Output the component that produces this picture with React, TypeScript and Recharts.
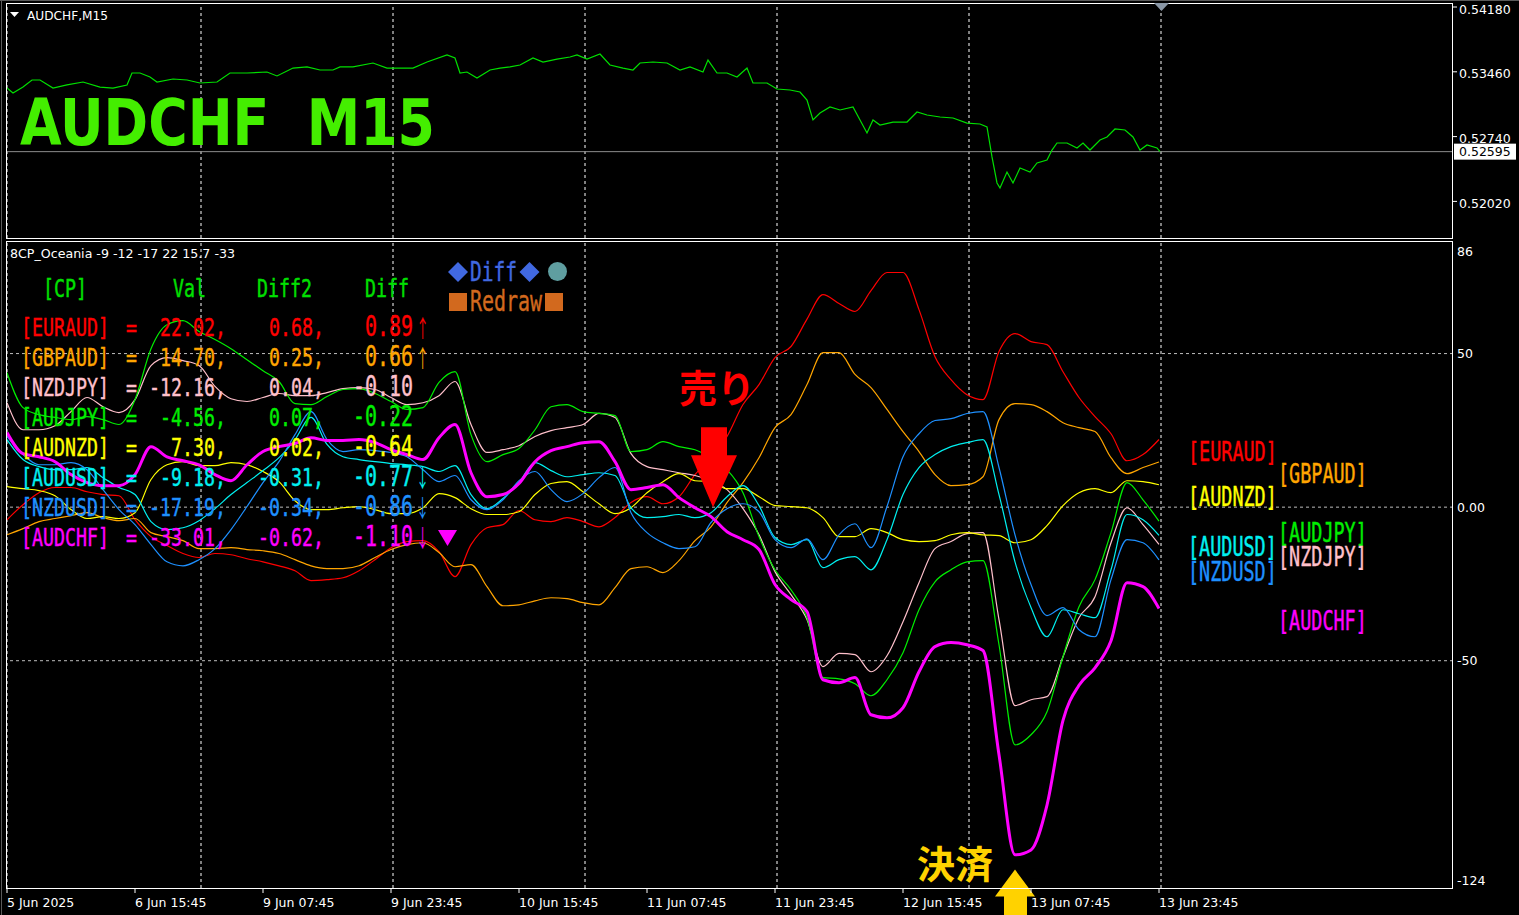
import React from 'react';
import { LineChart, Line, XAxis, YAxis, ReferenceLine, ReferenceDot } from 'recharts';

const W = 1519;
const H = 915;

// one indicator sample every 8 M15 bars, bar 0 = 5 Jun 2025
const sampleStep = 8;
const lastBarSlot = 723;

const timeTickBars = [0, 64, 128, 192, 256, 320, 384, 448, 512, 576];
const timeTickLabels = [
  '5 Jun 2025', '6 Jun 15:45', '9 Jun 07:45', '9 Jun 23:45', '10 Jun 15:45',
  '11 Jun 07:45', '11 Jun 23:45', '12 Jun 15:45', '13 Jun 07:45', '13 Jun 23:45',
];
const gridBars = [0, 97, 193, 289, 385, 481, 577];

const priceTicks = [0.5418, 0.5346, 0.5274, 0.5202];
const priceDomain = [0.516356, 0.542467];
const lastPrice = 0.52595;

const indTicks = [86, 50, 0, -50, -124];
const indDomain = [-124, 86];
const indGridLevels = [50, 0, -50];

// AUDCHF close, read at irregular bars
const priceBars = [
  0, 3, 8, 12.5, 16.5, 23, 30, 38, 46.5, 53,
  60, 62.5, 66.5, 71.5, 75, 83, 90, 96.5, 105, 111.5,
  120, 130, 135, 143, 150, 156.5, 163, 166.5, 173, 183,
  190, 196.5, 203, 210, 220, 224, 226.5, 230, 235, 241.5,
  246.5, 251.5, 256.5, 263, 268, 275, 281.5, 285, 290, 296.5,
  301.5, 308, 313, 316.5, 323, 330, 336.5, 341.5, 348, 350.5,
  355, 360, 365, 370, 373, 380, 385, 391.5, 396.5, 400,
  403, 406.5, 411.5, 416.5, 423, 426.5, 430, 433, 436.5, 443,
  450, 455, 460, 466.5, 473, 480, 486.5, 490, 492.5, 495,
  496.5, 500, 503, 506.5, 511.5, 515, 520, 522.5, 525, 530,
  535, 538, 541.5, 546.5, 550, 554, 559, 563, 566.5, 570,
  575, 576.5,
];
const priceClose = [
  0.53302, 0.53247, 0.53313, 0.53391, 0.53391, 0.53302, 0.53336, 0.53369, 0.53313, 0.53302,
  0.53336, 0.53469, 0.53469, 0.53424, 0.53369, 0.53402, 0.53391, 0.53358, 0.53369, 0.53469,
  0.53469, 0.5348, 0.53436, 0.53524, 0.53536, 0.53502, 0.53502, 0.53536, 0.53536, 0.5358,
  0.53524, 0.53524, 0.53524, 0.53591, 0.53669, 0.53636, 0.53469, 0.5348, 0.53413, 0.53502,
  0.53524, 0.53536, 0.53558, 0.53636, 0.53591, 0.53624, 0.53647, 0.53669, 0.53624, 0.5368,
  0.53558, 0.53524, 0.53502, 0.5358, 0.53591, 0.5358, 0.53502, 0.53536, 0.5348, 0.53613,
  0.53469, 0.53469, 0.53424, 0.53524, 0.53358, 0.53358, 0.53291, 0.5328, 0.53258, 0.53169,
  0.52947, 0.53024, 0.53091, 0.53058, 0.53091, 0.52947, 0.52802, 0.52947, 0.52891, 0.52924,
  0.52924, 0.53036, 0.53002, 0.5298, 0.52969, 0.52913, 0.52902, 0.52869, 0.52536, 0.52247,
  0.52191, 0.52369, 0.52247, 0.52413, 0.52369, 0.52469, 0.52502, 0.52613, 0.52691, 0.52691,
  0.52636, 0.52691, 0.52613, 0.52724, 0.52758, 0.52847, 0.52836, 0.52758, 0.52613, 0.52669,
  0.52636, 0.52595,
];

const euraud = [
  -4.1, 0.8, 4.7, 6.4, 6.4, 5.0, 4.1, 3.7, -4.1, -9.6,
  -12.5, -15.1, -16.4, -15.1, -15.5, -16.8, -17.8, -19.1, -20.7, -23.9,
  -23.6, -23.0, -20.7, -17.1, -13.2, -11.2, -10.9, -14.5, -22.6, -12.2,
  -6.7, -5.7, -1.1, -4.1, -4.7, -3.4, -4.7, -6.4, -3.4, 1.5,
  3.4, 1.1, 3.4, 10.6, 16.1, 23.0, 33.4, 39.9, 48.7, 52.3,
  61.2, 69.2, 66.3, 63.7, 70.5, 76.4, 76.4, 64.3, 49.0, 41.5,
  36.6, 35.0, 50.7, 56.5, 53.9, 52.9, 44.1, 35.7, 29.5, 23.9,
  15.1, 17.1, 22.02,
];
const gbpaud = [
  -9.0, -7.0, -4.7, -3.7, -2.8, -1.8, -3.4, -4.4, -3.7, -8.3,
  -9.6, -10.9, -13.5, -13.5, -13.2, -13.8, -14.2, -15.1, -17.1, -19.1,
  -20.0, -20.0, -19.1, -16.4, -13.8, -12.2, -11.6, -14.8, -19.4, -18.7,
  -25.9, -32.1, -31.8, -30.5, -29.5, -29.8, -31.1, -31.8, -26.2, -20.0,
  -19.4, -21.3, -17.4, -10.9, -6.4, 1.5, 8.0, 16.1, 25.9, 30.1,
  39.9, 50.3, 50.3, 43.2, 38.9, 31.8, 24.6, 18.1, 10.6, 7.0,
  7.3, 9.9, 28.5, 33.7, 33.4, 31.1, 27.5, 25.9, 24.6, 16.1,
  10.9, 12.9, 14.7,
];
const nzdjpy = [
  34.0, 25.2, 25.2, 26.5, 31.1, 35.7, 32.7, 30.8, 35.0, 46.1,
  48.7, 47.7, 46.1, 39.3, 35.3, 34.4, 35.7, 37.0, 36.3, 36.3,
  37.3, 38.6, 38.9, 38.3, 35.7, 33.4, 34.0, 36.3, 40.9, 26.9,
  17.8, 18.7, 20.0, 23.0, 24.9, 25.9, 26.9, 30.5, 29.2, 17.4,
  13.2, 12.2, 11.2, 10.3, 8.6, 5.7, -0.5, -9.0, -21.0, -28.5,
  -36.6, -51.9, -47.6, -48.0, -53.6, -48.4, -37.3, -24.6, -13.5, -11.2,
  -8.6, -8.3, -36.6, -64.6, -62.7, -61.7, -48.7, -36.0, -29.2, -11.6,
  -0.2, -5.7, -12.16,
];
const audjpy = [
  43.8, 32.4, 30.1, 29.2, 28.5, 29.5, 28.5, 26.9, 35.0, 51.6,
  59.4, 60.7, 57.2, 54.6, 51.6, 48.0, 44.4, 40.9, 33.7, 33.4,
  36.0, 38.3, 38.6, 37.0, 34.4, 31.8, 32.4, 40.6, 44.1, 23.6,
  14.8, 17.1, 19.1, 25.2, 32.7, 33.4, 31.1, 30.5, 29.8, 18.1,
  18.7, 21.3, 19.7, 18.7, 16.1, 12.2, 4.7, -9.6, -20.4, -26.9,
  -36.0, -55.5, -55.9, -57.5, -61.4, -56.2, -47.4, -33.4, -24.3, -20.4,
  -17.8, -17.4, -44.8, -77.4, -74.1, -66.6, -48.7, -32.4, -23.6, -8.3,
  8.0, 2.4, -4.56,
];
const audnzd = [
  6.7, 6.0, 5.4, 3.7, -0.8, -3.7, -3.1, -3.7, -1.8, 9.0,
  13.8, 14.8, 13.5, 13.5, 14.5, 13.8, 11.6, 8.3, 2.1, -0.8,
  -0.8, -0.2, 0.2, -0.8, -2.1, -2.1, -0.2, 4.4, 3.1, -0.5,
  -2.4, -2.4, -1.5, 4.1, 7.7, 8.3, 5.0, 1.1, -2.1, -0.2,
  4.7, 8.3, 10.9, 8.6, 8.3, 6.0, 6.0, 3.4, 0.5, 0.2,
  -0.2, -3.4, -9.6, -9.6, -7.0, -8.3, -10.6, -11.2, -10.9, -9.0,
  -8.3, -9.0, -9.3, -11.6, -10.6, -6.0, 0.5, 4.7, 6.0, 4.7,
  8.6, 8.3, 7.3,
];
const audusd = [
  22.0, 15.5, 13.2, 12.2, 12.2, 12.9, 9.6, 6.4, 4.1, -4.7,
  -7.3, -6.7, -4.4, -0.5, 4.1, 8.0, 11.9, 16.1, 22.0, 29.2,
  20.4, 16.4, 15.5, 14.8, 14.2, 13.8, 13.2, 11.6, 13.5, 4.1,
  -0.5, 2.8, 8.0, 14.5, 11.9, 9.9, 10.6, 11.2, 10.3, -0.2,
  -3.4, -3.1, -2.4, -3.4, -1.8, 3.4, 7.0, 0.5, -9.9, -12.2,
  -10.6, -19.7, -17.1, -16.1, -20.4, -10.6, 4.1, 12.9, 17.1, 19.7,
  21.0, 22.0, 4.1, -17.8, -32.7, -42.2, -33.4, -34.7, -36.0, -20.4,
  -2.4, -4.1, -9.18,
];
const nzdusd = [
  23.0, 17.1, 13.8, 13.8, 14.5, 12.2, 5.7, -0.8, -5.7, -12.2,
  -17.8, -19.1, -17.1, -13.5, -7.3, 0.2, 8.0, 14.8, 23.6, 31.1,
  22.0, 18.1, 18.7, 18.4, 17.8, 16.4, 12.2, 8.3, 10.3, 2.4,
  -0.8, 2.4, 8.6, 11.6, 5.7, 1.8, 4.4, 9.6, 12.9, -1.8,
  -8.3, -11.6, -13.5, -12.9, -5.0, -0.5, 1.1, -1.5, -10.6, -13.2,
  -10.3, -17.1, -9.0, -5.4, -13.2, 0.2, 16.4, 23.9, 28.2, 28.8,
  30.5, 31.1, 12.9, -9.0, -25.2, -35.3, -32.7, -39.9, -42.2, -23.6,
  -10.6, -11.6, -17.19,
];
const audchf = [
  24.3, 17.4, 16.4, 14.8, 10.6, 8.0, 7.0, 7.0, 10.6, 19.7,
  16.4, 15.1, 13.8, 10.6, 8.6, 13.8, 18.1, 19.7, 20.7, 22.6,
  21.7, 21.7, 22.0, 21.0, 18.7, 17.1, 15.5, 22.6, 26.9, 11.2,
  3.4, 4.1, 7.7, 14.8, 18.4, 19.7, 21.0, 21.3, 14.8, 5.7,
  6.4, 7.3, 3.1, -0.2, -3.1, -8.0, -10.6, -13.8, -25.2, -30.1,
  -34.0, -56.2, -57.2, -55.5, -67.6, -68.6, -65.3, -53.6, -45.4, -44.1,
  -44.8, -46.7, -80.6, -113.2, -111.6, -97.0, -69.4, -58.0, -52.3, -43.5,
  -24.6, -25.9, -33.01,
];

const pairNames = ['EURAUD', 'GBPAUD', 'NZDJPY', 'AUDJPY', 'AUDNZD', 'AUDUSD', 'NZDUSD', 'AUDCHF'];
const pairSeries: Record<string, number[]> = {
  EURAUD: euraud, GBPAUD: gbpaud, NZDJPY: nzdjpy, AUDJPY: audjpy,
  AUDNZD: audnzd, AUDUSD: audusd, NZDUSD: nzdusd, AUDCHF: audchf,
};

const tableVal = ['22.02,', '14.70,', '-12.16,', '-4.56,', '7.30,', '-9.18,', '-17.19,', '-33.01,'];
const tableDiff2 = ['0.68,', '0.25,', '0.04,', '0.07,', '0.02,', '-0.31,', '-0.34,', '-0.62,'];
const tableDiff = ['0.89', '0.66', '-0.10', '-0.22', '-0.64', '-0.77', '-0.86', '-1.10'];
const tableArrow = ['↑', '↑', '', '', '', '↓', '↓', '↓'];
const headerText = '8CP_Oceania -9 -12 -17 22 15.7 -33';

// signal marks: bar index and indicator value at the arrow tip
const sellSignal = { bar: 353, value: 0 };
const closeSignal = { bar: 504, value: -118 };

const pairColors: Record<string, string> = {
  EURAUD: '#FF0000', GBPAUD: '#FFA500', NZDJPY: '#FFC0CB', AUDJPY: '#00EE00',
  AUDNZD: '#FFFF00', AUDUSD: '#00F0F0', NZDUSD: '#1E90FF', AUDCHF: '#FF00FF',
};

// right side labels: column (0 / 1) and vertical centre
const sideLabels = [
  { name: 'EURAUD', col: 0, cy: 452 },
  { name: 'GBPAUD', col: 1, cy: 474 },
  { name: 'AUDNZD', col: 0, cy: 497 },
  { name: 'AUDJPY', col: 1, cy: 533 },
  { name: 'AUDUSD', col: 0, cy: 547 },
  { name: 'NZDJPY', col: 1, cy: 557 },
  { name: 'NZDUSD', col: 0, cy: 572 },
  { name: 'AUDCHF', col: 1, cy: 621 },
];

const axisFont = 'DejaVu Sans, Verdana, sans-serif';
const monoFont = "'DejaVu Sans Mono', 'Liberation Mono', monospace";
const cjkFont = "'Noto Sans CJK JP', sans-serif";

// narrow tall monospace text (like MS Gothic): font sized to the cell, stretched vertically
function Mono({ x, y, text, color, cell = 11, anchor = 'start', stretch = 1.4 }: any) {
  const n = Array.from(text as string).length;
  const w = n * cell;
  const x0 = anchor === 'end' ? x - w : x;
  return (
    <text transform={`translate(${x0},${y}) scale(1,${stretch})`} x={0} y={0} fill={color} stroke={color}
      strokeWidth={0.3} fontFamily={monoFont} fontSize={cell / 0.602} textLength={w} lengthAdjust="spacingAndGlyphs">
      {text}
    </text>
  );
}

function Arrow({ x, y, text, color }: any) {
  return (
    <text transform={`translate(${x},${y}) scale(0.55,1)`} x={0} y={0} fill={color}
      fontFamily={cjkFont} fontSize={24}>
      {text}
    </text>
  );
}

function PriceTick({ x, y, payload }: any) {
  return (
    <g>
      <line x1={x} x2={x + 4} y1={y - 2} y2={y - 2} stroke="#fff" />
      <text x={x + 6} y={y} fill="#fff" fontSize={12.5} fontFamily={axisFont} dominantBaseline="central">
        {Number(payload.value).toFixed(5)}
      </text>
    </g>
  );
}

function IndTick({ x, y, payload }: any) {
  const v = payload.value;
  const dy = v === 86 ? 8 : v === -124 ? -8 : 0;
  const txt = v === 0 ? '0.00' : String(v);
  return (
    <text x={x + 4} y={y + dy} fill="#fff" fontSize={12.5} fontFamily={axisFont} dominantBaseline="central">
      {txt}
    </text>
  );
}

function TimeTick({ x, y, payload }: any) {
  const i = timeTickBars.indexOf(payload.value);
  return (
    <g>
      <line x1={x} x2={x} y1={y} y2={y + 5} stroke="#fff" />
      <text x={x} y={y + 14} fill="#fff" fontSize={12.5} fontFamily={axisFont} dominantBaseline="central">
        {timeTickLabels[i]}
      </text>
    </g>
  );
}

function PriceBox({ viewBox }: any) {
  const x = viewBox.x + viewBox.width + 1;
  const y = viewBox.y;
  return (
    <g>
      <rect x={x} y={y - 8} width={62} height={16} fill="#fff" />
      <text x={x + 5} y={y} fill="#000" fontSize={12.5} fontFamily={axisFont} dominantBaseline="central">
        {lastPrice.toFixed(5)}
      </text>
    </g>
  );
}

function SellMark({ cx, cy }: any) {
  const pts = [
    [cx, cy], [cx - 22, cy - 52], [cx - 12, cy - 52], [cx - 12, cy - 80],
    [cx + 14, cy - 80], [cx + 14, cy - 52], [cx + 24, cy - 52],
  ].map((p) => p.join(',')).join(' ');
  return (
    <g>
      <polygon points={pts} fill="#FF0000" />
      <text x={cx + 4} y={cy - 122} fill="#FF0000" fontSize={38} fontWeight="bold"
        fontFamily={cjkFont} textAnchor="middle" dominantBaseline="central">
        売り
      </text>
    </g>
  );
}

function CloseMark({ cx, cy }: any) {
  const pts = [
    [cx, cy], [cx + 20, cy + 27], [cx + 12, cy + 27], [cx + 12, cy + 50],
    [cx - 11, cy + 50], [cx - 11, cy + 27], [cx - 20, cy + 27],
  ].map((p) => p.join(',')).join(' ');
  return (
    <g>
      <polygon points={pts} fill="#FFD200" />
      <text x={cx - 60} y={cy - 8} fill="#FFD200" fontSize={38} fontWeight="bold"
        fontFamily={cjkFont} textAnchor="middle" dominantBaseline="central">
        決済
      </text>
    </g>
  );
}

export default function App() {
  const priceData = priceBars.map((b, i) => ({ bar: b, close: priceClose[i] }));
  const indData = audchf.map((_, i) => {
    const row: Record<string, number> = { bar: i * sampleStep };
    pairNames.forEach((n) => { row[n] = pairSeries[n][i]; });
    return row;
  });

  const rowY = (i: number) => 327 + 30 * i;

  return (
    <div style={{ position: 'absolute', left: 0, top: 0, width: W, height: H, background: '#000', overflow: 'hidden' }}>
      <div style={{ position: 'absolute', left: 0, top: 0 }}>
        <LineChart width={W} height={241} data={priceData} margin={{ top: 3, right: 0, bottom: 3, left: 7 }}>
          <XAxis dataKey="bar" type="number" domain={[0, lastBarSlot]} hide allowDataOverflow />
          <YAxis orientation="right" width={66} domain={priceDomain} ticks={priceTicks} interval={0}
            allowDataOverflow tickLine={false} axisLine={false} tickSize={0} tickMargin={0}
            tick={(p: any) => <PriceTick {...p} />} />
          {gridBars.map((b) => (
            <ReferenceLine key={b} x={b} stroke="#ffffff" strokeDasharray="3 3" />
          ))}
          <ReferenceLine y={lastPrice} stroke="#8c8c8c" label={<PriceBox />} />
          <Line dataKey="close" type="linear" stroke="#00E000" strokeWidth={1.2} dot={false} isAnimationActive={false} />
        </LineChart>
      </div>

      <div style={{ position: 'absolute', left: 0, top: 241 }}>
        <LineChart width={W} height={674} data={indData} margin={{ top: 2, right: 0, bottom: 0, left: 7 }}>
          <XAxis dataKey="bar" type="number" domain={[0, lastBarSlot]} ticks={timeTickBars} interval={0}
            allowDataOverflow height={27} tickLine={false} axisLine={false} tickSize={0} tickMargin={0}
            tick={(p: any) => <TimeTick {...p} />} />
          <YAxis orientation="right" width={66} domain={indDomain} ticks={indTicks} interval={0}
            allowDataOverflow tickLine={false} axisLine={false} tickSize={0} tickMargin={0}
            tick={(p: any) => <IndTick {...p} />} />
          {gridBars.map((b) => (
            <ReferenceLine key={b} x={b} stroke="#ffffff" strokeDasharray="3 3" />
          ))}
          {indGridLevels.map((lv) => (
            <ReferenceLine key={lv} y={lv} stroke="#bdbdbd" strokeDasharray="3 3" />
          ))}
          {pairNames.map((n) => (
            <Line key={n} dataKey={n} type="monotone" stroke={pairColors[n]}
              strokeWidth={n === 'AUDCHF' ? 3 : 1.2} dot={false} isAnimationActive={false} />
          ))}
          <ReferenceDot x={sellSignal.bar} y={sellSignal.value} r={0} shape={(p: any) => <SellMark {...p} />} />
          <ReferenceDot x={closeSignal.bar} y={closeSignal.value} r={0} shape={(p: any) => <CloseMark {...p} />} />
        </LineChart>
      </div>

      <svg width={W} height={H} style={{ position: 'absolute', left: 0, top: 0, pointerEvents: 'none' }}>
        {/* window edges and pane frames */}
        <line x1={0} x2={W} y1={0.5} y2={0.5} stroke="#5a5a5a" />
        <line x1={1.5} x2={1.5} y1={0} y2={H} stroke="#5a5a5a" />
        <rect x={6.5} y={3.5} width={1446} height={235} fill="none" stroke="#fff" />
        <rect x={6.5} y={241.5} width={1446} height={647} fill="none" stroke="#fff" />
        <polygon points="1154,3 1169,3 1161.5,11" fill="#8a97a6" />

        {/* main pane titles */}
        <polygon points="10,12 19,12 14.5,17" fill="#fff" />
        <text x={27} y={19.5} fill="#fff" fontSize={11.5} fontFamily={axisFont} textLength={81} lengthAdjust="spacingAndGlyphs">
          AUDCHF,M15
        </text>
        <text x={20} y={145} fill="#44EE00" fontSize={64} fontWeight="bold" fontFamily={axisFont}
          textLength={415} lengthAdjust="spacingAndGlyphs">
          {'AUDCHF\u00A0\u00A0M15'}
        </text>

        {/* indicator header */}
        <text x={10} y={257.5} fill="#fff" fontSize={11.5} fontFamily={axisFont} textLength={225} lengthAdjust="spacingAndGlyphs">
          {headerText}
        </text>

        {/* table */}
        <Mono x={43} y={297} text="[CP]" color="#00E000" />
        <Mono x={173} y={297} text="Val" color="#00E000" />
        <Mono x={257} y={297} text="Diff2" color="#00E000" />
        <Mono x={365} y={297} text="Diff" color="#00E000" />
        {pairNames.map((n, i) => {
          const c = pairColors[n];
          const by = rowY(i) + 9;
          return (
            <g key={n}>
              <Mono x={21} y={by} text={`[${n}]`} color={c} />
              <Mono x={126} y={by} text="=" color={c} />
              <Mono x={226} y={by} text={tableVal[i]} color={c} anchor="end" />
              <Mono x={324} y={by} text={tableDiff2[i]} color={c} anchor="end" />
              <Mono x={413} y={by} text={tableDiff[i]} color={c} cell={12} anchor="end" />
              {tableArrow[i] && <Arrow x={416} y={by + 1} text={tableArrow[i]} color={c} />}
            </g>
          );
        })}
        <polygon points="438,530 457,530 447.5,546" fill="#FF00FF" />

        {/* legend */}
        <polygon points="458,262 468,272 458,282 448,272" fill="#4169E1" />
        <Mono x={470} y={281} text="Diff" color="#4169E1" cell={11.75} />
        <polygon points="529.5,262 539.5,272 529.5,282 519.5,272" fill="#4169E1" />
        <circle cx={557.5} cy={271.5} r={9.5} fill="#5F9EA0" />
        <rect x={449} y={293} width={18} height={18} fill="#D2691E" />
        <Mono x={470} y={310.5} text="Redraw" color="#D2691E" cell={12} />
        <rect x={545} y={293} width={18} height={18} fill="#D2691E" />

        {/* right side pair labels */}
        {sideLabels.map((s) => (
          <Mono key={s.name} x={s.col === 0 ? 1188 : 1278} y={s.cy + 9} text={`[${s.name}]`}
            color={pairColors[s.name]} cell={11.1} />
        ))}
      </svg>
    </div>
  );
}
